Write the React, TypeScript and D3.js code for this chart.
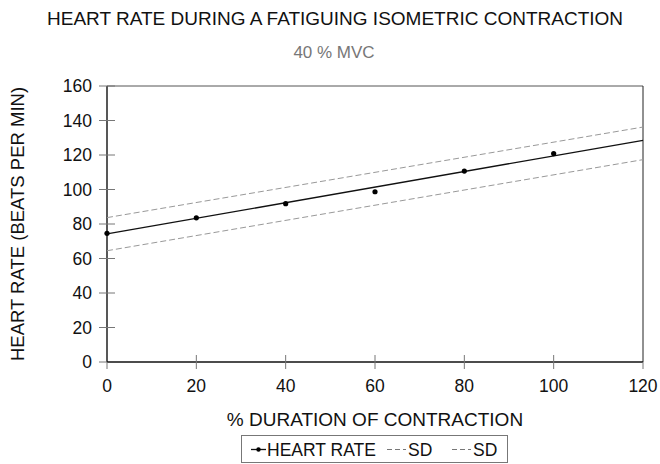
import * as d3 from "d3";

// values
const xTicks = [0, 20, 40, 60, 80, 100, 120];
const yTicks = [0, 20, 40, 60, 80, 100, 120, 140, 160];
const durationPct = [0, 20, 40, 60, 80, 100];
const heartRate = [74.6, 83.6, 91.8, 98.7, 110.7, 120.8];
const fitX = [0, 120];
const fitRate = [74.3, 128.5];
const sdUpper = [83.7, 136.2];
const sdLower = [64.5, 117.3];

const FONT = "'Liberation Sans', Arial, sans-serif";

const App = () => {
  const margin = { top: 86, right: 17, bottom: 102, left: 107 };
  const W = 660;
  const H = 464;
  const innerW = W - margin.left - margin.right;
  const innerH = H - margin.top - margin.bottom;

  const x = d3.scaleLinear().domain([0, 120]).range([margin.left, margin.left + innerW]);
  const y = d3.scaleLinear().domain([0, 160]).range([margin.top + innerH, margin.top]);

  const line = d3
    .line<number>()
    .x((_, i) => x(fitX[i]))
    .y((d) => y(d));

  const x0 = x(0);
  const x1 = x(120);
  const y0 = y(0);
  const y1 = y(160);
  const plotMid = (x0 + x1) / 2;

  return (
    <svg
      width={W}
      height={H}
      style={{ position: "absolute", left: 0, top: 0, background: "#fff" }}
      fontFamily={FONT}
    >
      <text x={335} y={25} textAnchor="middle" fontSize={19} fill="#111">
        HEART RATE DURING A FATIGUING ISOMETRIC CONTRACTION
      </text>
      <text x={334} y={58} textAnchor="middle" fontSize={17} fill="#777">
        40 % MVC
      </text>

      {/* frame */}
      <line x1={x0} x2={x1} y1={y1} y2={y1} stroke="#555" strokeWidth={1} />
      <line x1={x1} x2={x1} y1={y1} y2={y0} stroke="#222" strokeWidth={1} />
      <line x1={x0} x2={x0} y1={y1} y2={y0} stroke="#111" strokeWidth={1.4} />
      <line x1={x0} x2={x1} y1={y0} y2={y0} stroke="#111" strokeWidth={1.4} />

      {yTicks.map((t) => (
        <g key={"y" + t}>
          <line
            x1={x0 - 8}
            x2={t === 0 ? x0 : x0 + 8}
            y1={y(t)}
            y2={y(t)}
            stroke="#777"
            strokeWidth={1}
          />
          <text x={92} y={y(t)} dy="0.36em" textAnchor="end" fontSize={17.5} fill="#111">
            {t}
          </text>
        </g>
      ))}

      {xTicks.map((t) => (
        <g key={"x" + t}>
          <line
            x1={x(t)}
            x2={x(t)}
            y1={t === 0 || t === 120 ? y0 : y0 - 7}
            y2={y0 + 7}
            stroke="#777"
            strokeWidth={1}
          />
          <text x={x(t)} y={392} textAnchor="middle" fontSize={17.5} fill="#111">
            {t}
          </text>
        </g>
      ))}

      <text
        transform={`translate(24,${(y0 + y1) / 2}) rotate(-90)`}
        textAnchor="middle"
        fontSize={18.5}
        fill="#111"
      >
        HEART RATE (BEATS PER MIN)
      </text>
      <text x={plotMid} y={426} textAnchor="middle" fontSize={19} fill="#111">
        % DURATION OF CONTRACTION
      </text>

      {/* SD bands */}
      <path d={line(sdUpper) || ""} fill="none" stroke="#999" strokeWidth={1} strokeDasharray="6,3" />
      <path d={line(sdLower) || ""} fill="none" stroke="#999" strokeWidth={1} strokeDasharray="6,3" />
      {/* fitted line */}
      <path d={line(fitRate) || ""} fill="none" stroke="#111" strokeWidth={1.4} />
      {durationPct.map((d, i) => (
        <circle key={"p" + d} cx={x(d)} cy={y(heartRate[i])} r={2.6} fill="#000" />
      ))}

      {/* legend */}
      <g>
        <rect x={241.5} y={435.5} width={266} height={27} fill="none" stroke="#777" strokeWidth={1} />
        <line x1={251} x2={266} y1={449.5} y2={449.5} stroke="#111" strokeWidth={1.3} />
        <circle cx={258.5} cy={449.5} r={2.2} fill="#000" />
        <text x={267} y={455.5} fontSize={17.5} fill="#111">
          HEART RATE
        </text>
        <line x1={387} x2={406} y1={449.5} y2={449.5} stroke="#777" strokeWidth={1} strokeDasharray="5,3" />
        <text x={408} y={455.5} fontSize={17.5} fill="#111">
          SD
        </text>
        <line x1={452} x2={471} y1={449.5} y2={449.5} stroke="#777" strokeWidth={1} strokeDasharray="5,3" />
        <text x={473} y={455.5} fontSize={17.5} fill="#111">
          SD
        </text>
      </g>
    </svg>
  );
};

export default App;
